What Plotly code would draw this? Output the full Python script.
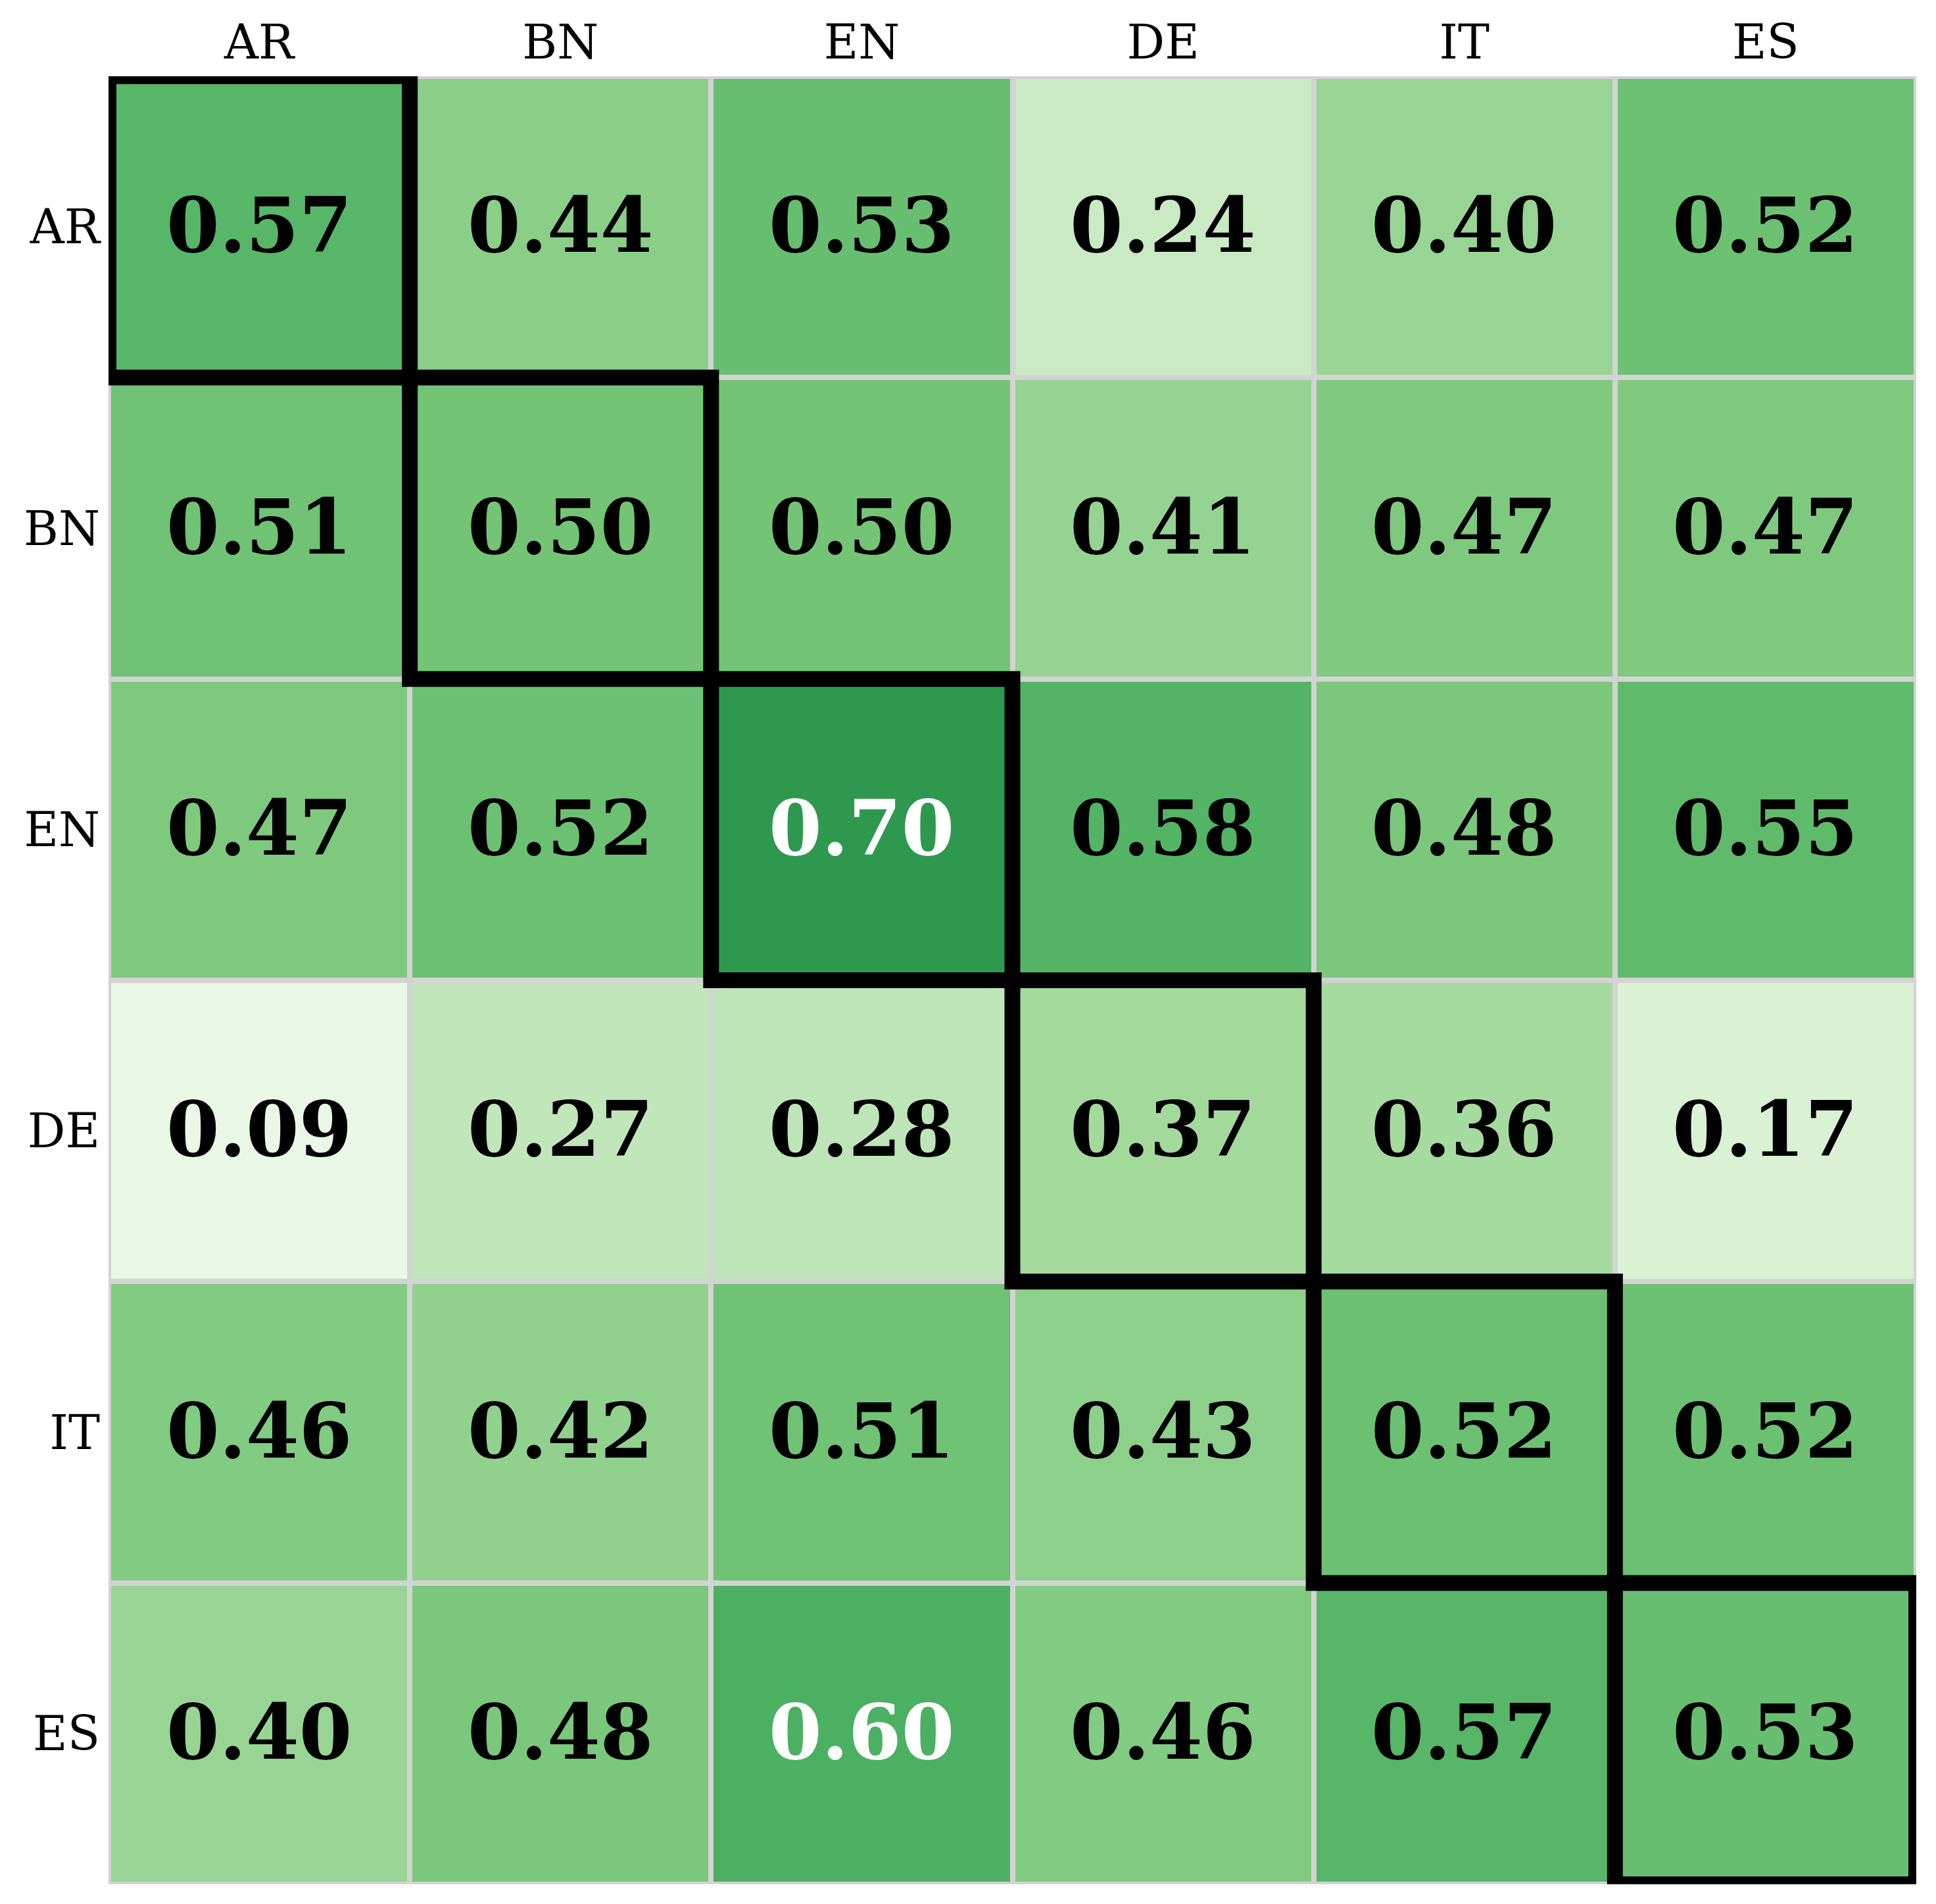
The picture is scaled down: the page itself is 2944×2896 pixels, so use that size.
import plotly.graph_objects as go

langs = ["AR", "BN", "EN", "DE", "IT", "ES"]
row_AR = [0.57, 0.44, 0.53, 0.24, 0.40, 0.52]
row_BN = [0.51, 0.50, 0.50, 0.41, 0.47, 0.47]
row_EN = [0.47, 0.52, 0.70, 0.58, 0.48, 0.55]
row_DE = [0.09, 0.27, 0.28, 0.37, 0.36, 0.17]
row_IT = [0.46, 0.42, 0.51, 0.43, 0.52, 0.52]
row_ES = [0.40, 0.48, 0.60, 0.46, 0.57, 0.53]
z = [row_AR, row_BN, row_EN, row_DE, row_IT, row_ES]

greens = [[0.0, "rgb(247,252,245)"], [0.125, "rgb(229,245,224)"], [0.25, "rgb(199,233,192)"],
          [0.375, "rgb(161,217,155)"], [0.5, "rgb(116,196,118)"], [0.625, "rgb(65,171,93)"],
          [0.75, "rgb(35,139,69)"], [0.875, "rgb(0,109,44)"], [1.0, "rgb(0,68,27)"]]

fig = go.Figure(go.Heatmap(
    z=z, x=langs, y=langs, colorscale=greens, zmin=0, zmax=1,
    showscale=False, xgap=8, ygap=8, hoverinfo="skip",
))

annotations = []
for i, r in enumerate(langs):
    for j, c in enumerate(langs):
        v = z[i][j]
        annotations.append(dict(
            x=c, y=r, xref="x", yref="y", text=f"{v:.2f}", showarrow=False, yshift=3,
            font=dict(family="DejaVu Serif", size=116, weight="bold",
                      color="white" if v >= 0.595 else "black"),
        ))

shapes = []
for k in range(len(langs)):
    shapes.append(dict(type="rect", xref="x", yref="y",
                       x0=k - 0.5, x1=k + 0.5, y0=k - 0.5, y1=k + 0.5,
                       line=dict(color="black", width=24), fillcolor="rgba(0,0,0,0)",
                       layer="above"))

fig.update_layout(
    width=2944, height=2896,
    margin=dict(l=165, r=30, t=116, b=30),
    paper_bgcolor="white", plot_bgcolor="#d3d3d3",
    font=dict(family="DejaVu Serif", color="black"),
    annotations=annotations, shapes=shapes,
    xaxis=dict(side="top", showgrid=False, zeroline=False, ticks="",
               tickfont=dict(size=72), showline=False, range=[-0.5, 5.5],
               ticklabelstandoff=12),
    yaxis=dict(autorange=False, range=[5.5, -0.5], showgrid=False, zeroline=False,
               ticks="", tickfont=dict(size=72), showline=False, ticklabelstandoff=12),
)

fig.write_html("out.html", config={"displayModeBar": False},
               post_script="document.body.style.margin='0';")
